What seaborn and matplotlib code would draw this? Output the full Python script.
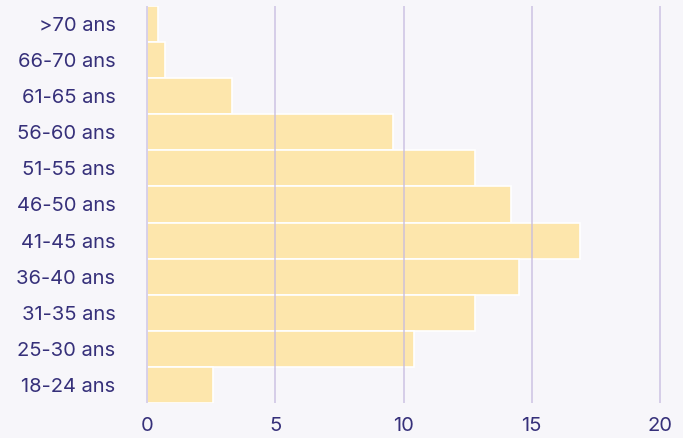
import matplotlib
matplotlib.use("Agg")
import matplotlib.pyplot as plt
import pandas as pd
import seaborn as sns

# Age groups (top to bottom) and share values
age_groups = [">70 ans", "66-70 ans", "61-65 ans", "56-60 ans", "51-55 ans",
              "46-50 ans", "41-45 ans", "36-40 ans", "31-35 ans", "25-30 ans",
              "18-24 ans"]
values = [0.4, 0.7, 3.3, 9.6, 12.8, 14.2, 16.9, 14.5, 12.8, 10.4, 2.55]
x_ticks = [0, 5, 10, 15, 20]

df = pd.DataFrame({"age": age_groups, "value": values})

bg = "#F7F6FA"
text_col = "#36307A"

sns.set_style("white")
plt.rcParams["font.family"] = ["Inter", "DejaVu Sans"]

fig = plt.figure(figsize=(6.83, 4.38), dpi=100, facecolor=bg)
ax = fig.add_axes([146 / 683, 35 / 438, 515 / 683, 397 / 438])
ax.set_facecolor(bg)

sns.barplot(data=df, x="value", y="age", order=age_groups, orient="h",
            color="#FDE6AC", saturation=1, width=1.0,
            edgecolor="white", linewidth=1.2, ax=ax)

ax.set_xlim(-0.05, 20.05)
ax.set_ylim(len(age_groups) - 0.5, -0.5)
ax.set_xticks(x_ticks)
ax.set_axisbelow(False)
ax.grid(axis="x", color="#C6BBE0", linewidth=1.2, alpha=0.8)
ax.grid(axis="y", visible=False)
for s in ax.spines.values():
    s.set_visible(False)

ax.set_xlabel("")
ax.set_ylabel("")
ax.tick_params(axis="y", length=0, pad=22, labelsize=14.5, labelcolor=text_col)
ax.tick_params(axis="x", length=0, pad=10, labelsize=14.5, labelcolor=text_col)

fig.savefig("out.png", dpi=100, facecolor=bg)
